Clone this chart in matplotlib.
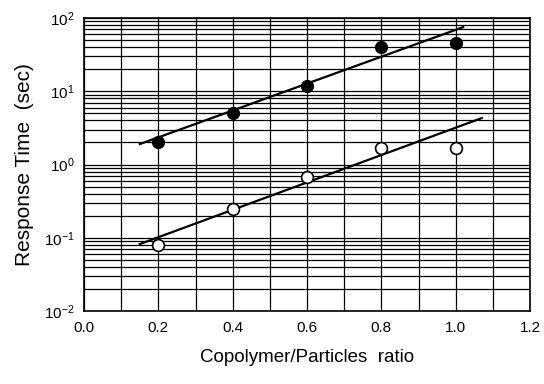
import matplotlib.pyplot as plt
import numpy as np
from matplotlib.ticker import FixedLocator, LogLocator, NullFormatter

# data
ratio = [0.2, 0.4, 0.6, 0.8, 1.0]
filled_time = [2.0, 5.0, 11.8, 40.0, 45.0]
open_time = [0.08, 0.25, 0.67, 1.68, 1.7]

# fitted lines (end points)
fit_filled_x = [0.15, 1.02]
fit_filled_y = [1.9, 75.0]
fit_open_x = [0.15, 1.07]
fit_open_y = [0.082, 4.3]

x_ticks = [0.0, 0.2, 0.4, 0.6, 0.8, 1.0, 1.2]
x_tick_labels = ['0.0', '0.2', '0.4', '0.6', '0.8', '1.0', '1.2']

plt.rcParams['font.family'] = ['Liberation Sans', 'DejaVu Sans']
plt.rcParams['mathtext.fontset'] = 'custom'
plt.rcParams['mathtext.rm'] = 'Liberation Sans'

fig = plt.figure(figsize=(5.44, 3.84), dpi=100)
ax = fig.add_axes([84 / 544, 1 - 311 / 384, 446 / 544, 293 / 384])

ax.set_yscale('log')
ax.set_xlim(0.0, 1.2)
ax.set_ylim(0.01, 100)

ax.plot(fit_filled_x, fit_filled_y, color='black', lw=1.6)
ax.plot(fit_open_x, fit_open_y, color='black', lw=1.6)
ax.plot(ratio, filled_time, 'o', color='black', ms=8.5)
ax.plot(ratio, open_time, 'o', mfc='white', mec='black', mew=1.2, ms=8.5)

ax.set_xticks(x_ticks)
ax.set_xticklabels(x_tick_labels)
ax.xaxis.set_minor_locator(FixedLocator(np.arange(0.1, 1.2, 0.2)))
ax.yaxis.set_major_locator(LogLocator(base=10, numticks=10))
ax.yaxis.set_minor_locator(LogLocator(base=10, subs=np.arange(2, 10), numticks=10))
ax.yaxis.set_minor_formatter(NullFormatter())

ax.grid(which='both', axis='both', color='black', lw=0.9)
ax.set_axisbelow(True)
ax.tick_params(which='both', length=0, labelsize=11, pad=7)
for s in ax.spines.values():
    s.set_linewidth(1.2)

ax.set_ylabel('Response Time  (sec)', fontsize=15, labelpad=7)
ax.set_xlabel('Copolymer/Particles  ratio', fontsize=13.5, labelpad=10)

fig.savefig('out.png', dpi=100)
